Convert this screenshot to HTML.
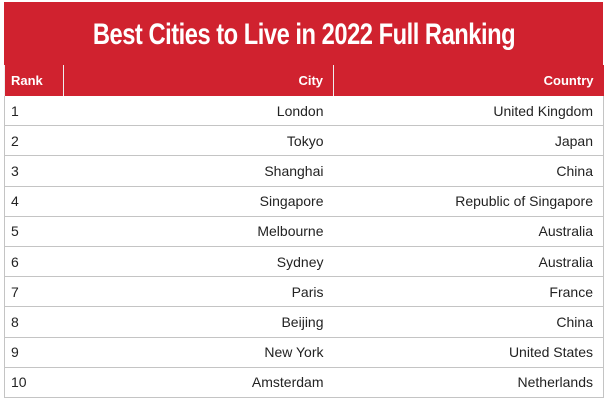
<!DOCTYPE html>
<html><head><meta charset="utf-8"><style>
body{margin:0;width:607px;height:400px;background:#fff;font-family:"Liberation Sans",sans-serif;overflow:hidden;position:relative}
#title{position:absolute;left:4px;top:2px;width:599px;height:63px;background:#d0222f;}
#title span{position:absolute;left:50%;top:0;line-height:66px;white-space:nowrap;color:#fff;font-weight:bold;font-size:30px;letter-spacing:-0.6px;transform:translateX(-50%) scaleX(0.79);transform-origin:center}
table{position:absolute;left:4px;top:65px;width:600px;border-collapse:collapse;font-size:14px;color:#222}
th{background:#d0222f;color:#fff;height:31px;font-size:13px;font-weight:bold;border-left:1px solid #eee;padding:0 10px 0 6px}
td{height:29.2px;border-bottom:1px solid #c4c4c4;padding:0 10px 0 6px}
td:first-child{border-left:1px solid #c4c4c4}
td:last-child{border-right:1px solid #c4c4c4}
.r{text-align:right}
</style></head><body>
<div id="title"><span>Best Cities to Live in 2022 Full Ranking</span></div>
<table>
<colgroup><col style="width:59px"><col style="width:270px"><col></colgroup>
<tr><th style="text-align:left">Rank</th><th class="r">City</th><th class="r">Country</th></tr>
<tr><td>1</td><td class="r">London</td><td class="r">United Kingdom</td></tr>
<tr><td>2</td><td class="r">Tokyo</td><td class="r">Japan</td></tr>
<tr><td>3</td><td class="r">Shanghai</td><td class="r">China</td></tr>
<tr><td>4</td><td class="r">Singapore</td><td class="r">Republic of Singapore</td></tr>
<tr><td>5</td><td class="r">Melbourne</td><td class="r">Australia</td></tr>
<tr><td>6</td><td class="r">Sydney</td><td class="r">Australia</td></tr>
<tr><td>7</td><td class="r">Paris</td><td class="r">France</td></tr>
<tr><td>8</td><td class="r">Beijing</td><td class="r">China</td></tr>
<tr><td>9</td><td class="r">New York</td><td class="r">United States</td></tr>
<tr><td>10</td><td class="r">Amsterdam</td><td class="r">Netherlands</td></tr>
</table>
</body></html>
